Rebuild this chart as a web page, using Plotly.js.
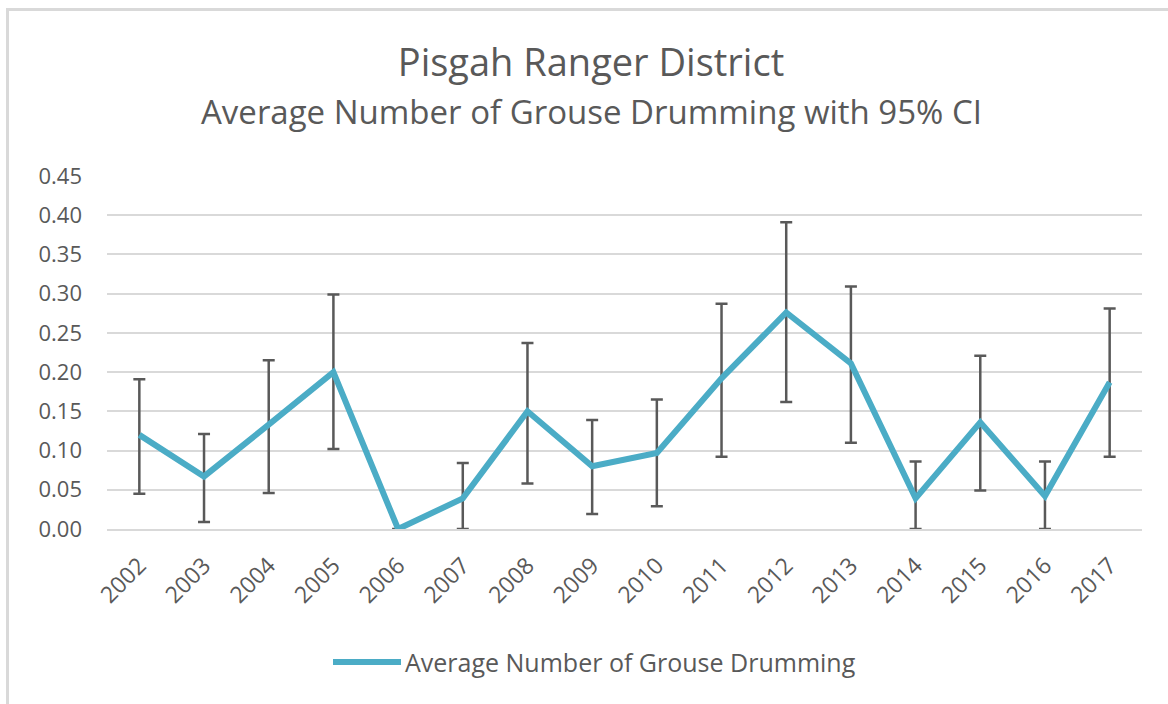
<!DOCTYPE html>
<html>
<head>
<meta charset="utf-8">
<script src="https://cdn.plot.ly/plotly-3.0.1.min.js"></script>
<style>
  html, body { margin: 0; padding: 0; background: #ffffff; }
  #frame { position: absolute; left: 6px; top: 8px; width: 1200px; height: 720px;
           border-top: 3px solid #d9d9d9; border-left: 3px solid #d9d9d9; box-sizing: border-box; }
  #chart { position: absolute; left: 0; top: 0; width: 1168px; height: 704px; }
</style>
</head>
<body>
<div id="frame"></div>
<div id="chart"></div>
<script>
// Data
const years = ['2002','2003','2004','2005','2006','2007','2008','2009','2010','2011','2012','2013','2014','2015','2016','2017'];
const avgDrumming = [0.120, 0.067, 0.133, 0.200, 0.000, 0.039, 0.150, 0.080, 0.097, 0.192, 0.276, 0.211, 0.039, 0.136, 0.042, 0.187];
const ciUpper     = [0.191, 0.121, 0.215, 0.299, 0.000, 0.084, 0.237, 0.139, 0.165, 0.287, 0.391, 0.309, 0.086, 0.221, 0.086, 0.281];
const ciLower     = [0.045, 0.009, 0.046, 0.102, 0.000, 0.000, 0.058, 0.019, 0.029, 0.092, 0.162, 0.110, 0.000, 0.049, 0.000, 0.092];
const seriesName = 'Average Number of Grouse Drumming';
const titleMain = 'Pisgah Ranger District';
const titleSub = 'Average Number of Grouse Drumming with 95% CI';

const errPlus = avgDrumming.map((v, i) => ciUpper[i] - v);
const errMinus = avgDrumming.map((v, i) => v - ciLower[i]);

const FONT = '"Open Sans", "Noto Sans", sans-serif';
const GREY = '#595959';
const LINE = '#4bacc6';

const trace = {
  type: 'scatter',
  mode: 'lines',
  name: seriesName,
  x: years,
  y: avgDrumming,
  line: { color: LINE, width: 6 },
  error_y: {
    type: 'data', symmetric: false,
    array: errPlus, arrayminus: errMinus,
    color: GREY, thickness: 2.5, width: 6
  },
  showlegend: false,
  cliponaxis: false,
  hoverinfo: 'x+y'
};

const L = 107, R = 26, T = 176, B = 175;
const plotW = 1168 - L - R, plotH = 704 - T - B;
const px2x = px => (px - L) / plotW;
const py2y = py => (704 - B - py) / plotH;

const layout = {
  width: 1168, height: 704,
  margin: { l: L, r: R, t: T, b: B, pad: 0 },
  paper_bgcolor: 'rgba(0,0,0,0)',
  plot_bgcolor: 'rgba(0,0,0,0)',
  font: { family: FONT, color: GREY },
  title: {
    text: titleMain,
    font: { family: FONT, size: 38, color: GREY },
    x: 591 / 1168, xref: 'container', xanchor: 'center',
    y: 1 - 63 / 704, yref: 'container', yanchor: 'middle'
  },
  xaxis: {
    type: 'category',
    range: [-0.5, 15.5],
    tickangle: -45,
    tickfont: { family: FONT, size: 23, color: GREY },
    showgrid: false,
    showline: true, linecolor: '#d9d9d9', linewidth: 2,
    ticks: '', ticklabelstandoff: 12,
    fixedrange: true
  },
  yaxis: {
    range: [0, 0.45],
    dtick: 0.05, tick0: 0,
    tickformat: '.2f',
    tickfont: { family: FONT, size: 22, color: GREY },
    showgrid: true, gridcolor: '#d9d9d9', gridwidth: 2,
    zeroline: false, showline: false,
    ticks: '', ticklabelstandoff: 24,
    fixedrange: true
  },
  shapes: [{
    type: 'line', xref: 'paper', yref: 'paper',
    x0: px2x(333), x1: px2x(401), y0: py2y(662), y1: py2y(662),
    line: { color: LINE, width: 6 }, layer: 'above'
  }],
  annotations: [{
    text: titleSub, xref: 'paper', yref: 'paper',
    x: px2x(591), y: py2y(112), xanchor: 'center', yanchor: 'middle',
    showarrow: false, font: { family: FONT, size: 33, color: GREY }
  }, {
    text: seriesName, xref: 'paper', yref: 'paper',
    x: px2x(403), y: py2y(662), xanchor: 'left', yanchor: 'middle',
    showarrow: false, font: { family: FONT, size: 25, color: GREY }
  }]
};

Plotly.newPlot('chart', [trace], layout, { displayModeBar: false, responsive: false });
</script>
</body>
</html>
